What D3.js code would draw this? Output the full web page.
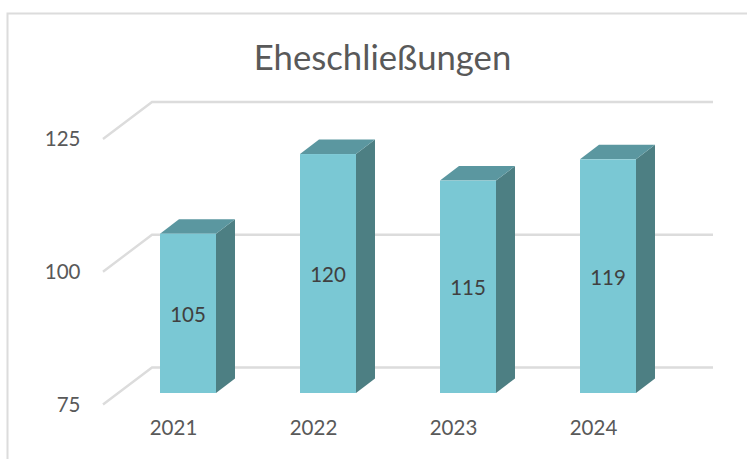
<!DOCTYPE html>
<html>
<head>
<meta charset="utf-8">
<script src="https://cdn.jsdelivr.net/npm/d3@7"></script>
<style>
html,body{margin:0;padding:0;background:#fff;overflow:hidden}
svg{display:block}
text{font-family:Lato,"Open Sans",sans-serif}
</style>
</head>
<body>
<svg id="c" width="747" height="459"></svg>
<script>
const titleText = "Eheschließungen";
const categories = ["2021","2022","2023","2024"];
const values = [105,120,115,119];
const yTicks = [75,100,125];

const svg = d3.select("#c");
const x = d3.scaleBand().domain(categories).range([118,678]).paddingInner(0.6).paddingOuter(0.3);
const y = d3.scaleLinear().domain([75,125]).range([393,127.5]);

// depth offsets
const barDx = 19, barDy = 14.5;
const wallDy = -25.5, wallX0 = 152, wallX1 = 713;
const frontX = 103, frontDy = 11.5;

// chart frame, open on right and bottom sides
svg.append("path")
  .attr("d", d3.line()([[7.5,459],[7.5,13.5],[747,13.5]]))
  .attr("fill","none").attr("stroke","#dcdcdc").attr("stroke-width",2);

// title
svg.append("text").attr("x",382.5).attr("y",70)
  .attr("text-anchor","middle").attr("font-size",34.7).attr("fill","#595959").text(titleText);

// gridlines: back wall + side wall
const grid = svg.append("g").attr("fill","none").attr("stroke","#dcdcdc").attr("stroke-width",2.4);
yTicks.forEach(t=>{
  const yb = y(t)+wallDy, yf = y(t)+frontDy;
  grid.append("path").attr("d", d3.line()([[frontX,yf],[wallX0,yb],[wallX1,yb]]));
});

// bars
const bars = svg.append("g").selectAll("g").data(categories.map((c,i)=>({c,v:values[i]}))).join("g");
bars.append("path") // side
  .attr("fill","#4d7f83")
  .attr("d",d=>{
    const r=x(d.c)+x.bandwidth();
    return d3.line()([[r,y(d.v)],[r+barDx,y(d.v)-barDy],[r+barDx,y(75)-barDy],[r,y(75)]])+"Z";
  });
bars.append("path") // top
  .attr("fill","#5b97a0")
  .attr("d",d=>{
    const l=x(d.c), r=l+x.bandwidth();
    return d3.line()([[l,y(d.v)],[r,y(d.v)],[r+barDx,y(d.v)-barDy],[l+barDx,y(d.v)-barDy]])+"Z";
  });
bars.append("rect") // front
  .attr("fill","#7ac8d4")
  .attr("x",d=>x(d.c)).attr("y",d=>y(d.v))
  .attr("width",x.bandwidth()).attr("height",d=>y(75)-y(d.v));
bars.append("text")
  .attr("x",d=>x(d.c)+x.bandwidth()/2)
  .attr("y",d=>(y(d.v)+y(75))/2+1.5)
  .attr("dy","0.35em")
  .attr("text-anchor","middle").attr("font-size",20.5).attr("fill","#404040")
  .text(d=>d.v);

// value axis
const yAxis = svg.append("g").attr("transform",`translate(80.5,${frontDy})`)
  .call(d3.axisLeft(y).tickValues(yTicks).tickSize(0).tickPadding(0));
yAxis.select(".domain").remove();
yAxis.selectAll("text").attr("font-size",20.5).attr("fill","#595959").style("font-family","Lato");

// category axis
const xAxis = svg.append("g").attr("transform","translate(-14.5,420)")
  .call(d3.axisBottom(x).tickSize(0).tickPadding(0));
xAxis.select(".domain").remove();
xAxis.selectAll("text").attr("font-size",20.5).attr("fill","#595959").style("font-family","Lato");
</script>
</body>
</html>
